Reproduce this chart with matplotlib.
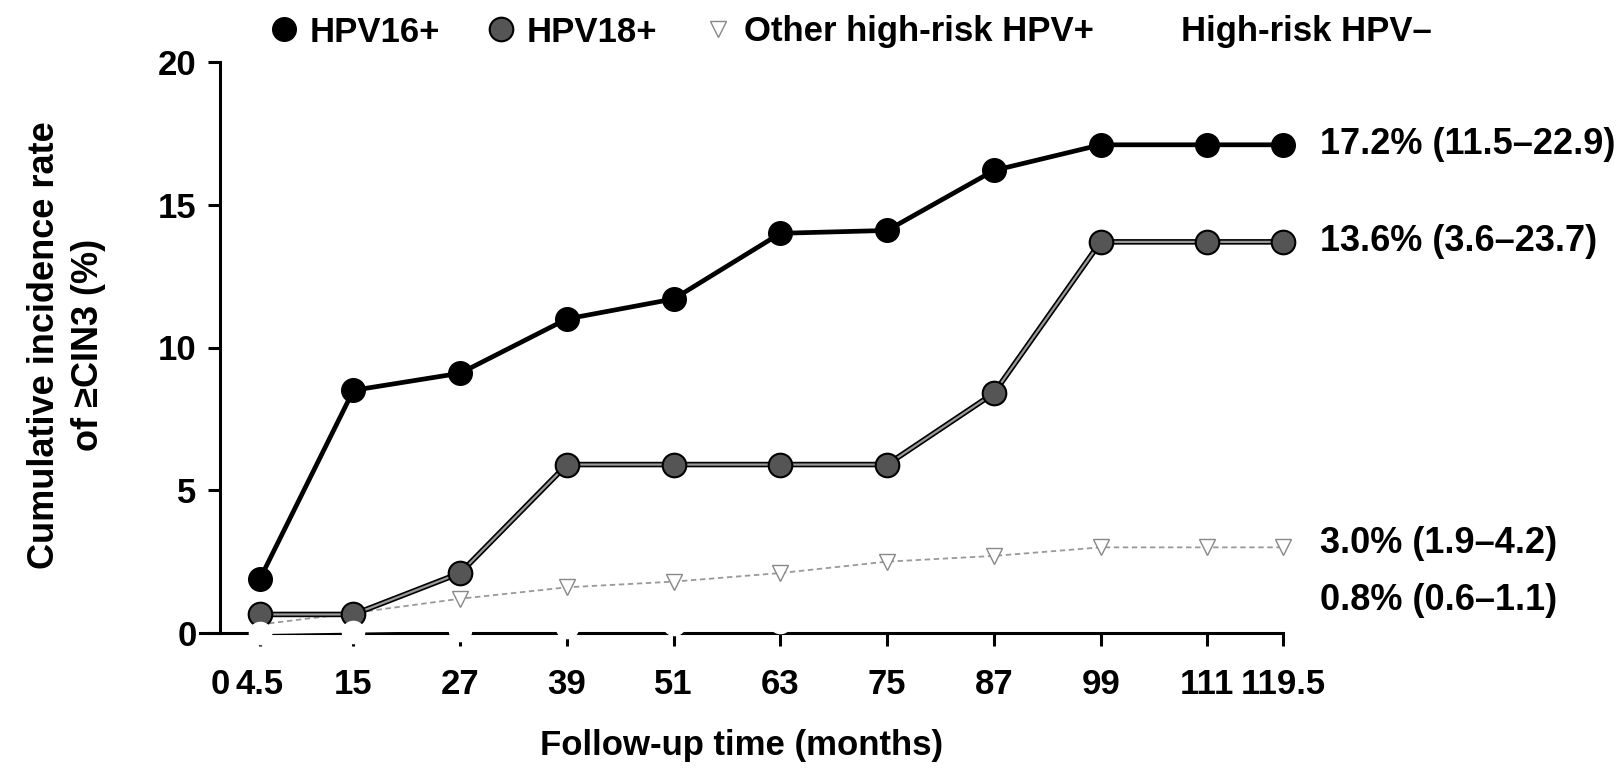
import matplotlib
matplotlib.use("Agg")
import matplotlib.pyplot as plt
from matplotlib.lines import Line2D

plt.rcParams['font.family'] = ['Liberation Sans', 'DejaVu Sans']
plt.rcParams['font.weight'] = 'bold'

# ---- data ----
months = [4.5, 15, 27, 39, 51, 63, 75, 87, 99, 111, 119.5]
tick_labels = ["0", "4.5", "15", "27", "39", "51", "63", "75", "87", "99", "111", "119.5"]
hpv16 = [1.9, 8.5, 9.1, 11.0, 11.7, 14.0, 14.1, 16.2, 17.1, 17.1, 17.1]
hpv18 = [0.65, 0.65, 2.1, 5.9, 5.9, 5.9, 5.9, 8.4, 13.7, 13.7, 13.7]
other_hr = [0.3, 0.7, 1.2, 1.6, 1.8, 2.1, 2.5, 2.7, 3.0, 3.0, 3.0]
hr_neg = [0.0, 0.05, 0.1, 0.2, 0.3, 0.4, 0.5, 0.6, 0.7, 0.8, 0.8]
series_names = ["HPV16+", "HPV18+", "Other high-risk HPV+", "High-risk HPV\u2013"]
end_labels = ["17.2% (11.5\u201322.9)", "13.6% (3.6\u201323.7)",
              "3.0% (1.9\u20134.2)", "0.8% (0.6\u20131.1)"]

FS = 25

fig = plt.figure(figsize=(16.22, 7.76), dpi=100)
ax = fig.add_axes([200/1622, 1 - 633/776, (1283 - 200)/1622, (633 - 62)/776])
ax.set_xlim(-2.25, 119.5)
ax.set_ylim(0, 20)

# HPV- (white, essentially invisible)
ax.plot(months, hr_neg, color='white', lw=1.5, marker='o', ms=16,
        mfc='white', mec='white', zorder=6, clip_on=False)
# Other high-risk
ax.plot(months, other_hr, color='#999999', lw=1.3, ls=(0, (3, 2)),
        marker='v', ms=12, mfc='white', mec='#888888', mew=1.0, zorder=3, clip_on=False)
# HPV18
ax.plot(months, hpv18, color='black', lw=4, zorder=4, solid_capstyle='round')
ax.plot(months, hpv18, color='#9a9a9a', lw=1.6, marker='o', ms=17,
        mfc='#555555', mec='black', mew=1.5, zorder=5, clip_on=False)
# HPV16
ax.plot(months, hpv16, color='black', lw=3.4, marker='o', ms=17,
        mfc='black', mec='black', zorder=7, clip_on=False)

# end labels
for vals, lab, dy in zip([hpv16, hpv18, other_hr, hr_neg], end_labels, [0, 0, 4, 10]):
    ax.annotate(lab, (months[-1], vals[-1]), xytext=(37, dy), textcoords='offset pixels',
                ha='left', va='center', fontsize=26, fontweight='bold',
                annotation_clip=False)

# axes styling
for s in ['top', 'right']:
    ax.spines[s].set_visible(False)
ax.spines['left'].set_position(('data', 0))
ax.spines['left'].set_linewidth(2.2)
ax.spines['bottom'].set_linewidth(2.2)
ax.set_xticks([0] + months)
ax.set_xticklabels(tick_labels)
ax.set_yticks([0, 5, 10, 15, 20])
ax.tick_params(axis='both', direction='out', length=9, width=2.2, labelsize=FS, pad=8)
ax.tick_params(axis='x', pad=16)
ax.xaxis.get_major_ticks()[0].tick1line.set_visible(False)
for t in ax.get_xticklabels() + ax.get_yticklabels():
    t.set_fontweight('bold')

ax.set_xlabel("Follow-up time (months)", fontsize=FS, fontweight='bold', labelpad=20)
fig.text(0.041, (776 - 345) / 776, "Cumulative incidence rate\nof \u2265CIN3 (%)",
         rotation=90, ha='center', va='center', fontsize=FS + 1, fontweight='bold',
         linespacing=1.3)

# legend
handles = [
    Line2D([], [], ls='none', marker='o', ms=17, mfc='black', mec='black'),
    Line2D([], [], ls='none', marker='o', ms=17, mfc='#555555', mec='black', mew=1.5),
    Line2D([], [], ls='none', marker='v', ms=12, mfc='white', mec='#888888', mew=1.0),
    Line2D([], [], ls='none', marker='o', ms=17, mfc='white', mec='white'),
]
fig.legend(handles, series_names, loc='center', bbox_to_anchor=(0.524, 1 - 32/776),
           ncol=4, frameon=False, prop={'weight': 'bold', 'size': FS},
           handletextpad=0.3, columnspacing=1.3, handlelength=0.9)

fig.savefig("out.png", dpi=100)
